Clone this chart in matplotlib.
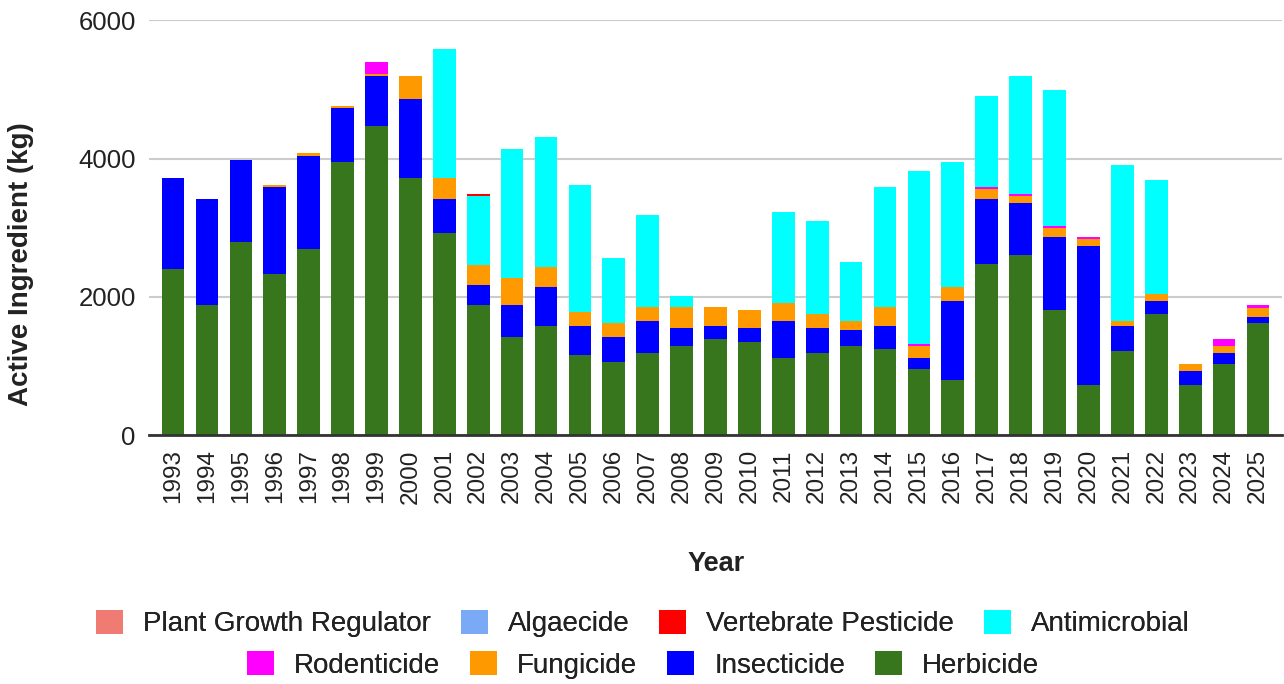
import matplotlib
matplotlib.use("Agg")
import matplotlib.pyplot as plt
import numpy as np
from matplotlib.patches import Patch

years = [str(y) for y in range(1993, 2026)]

herbicide = [2405, 1880, 2800, 2338, 2699, 3948, 4473, 3716, 2926, 1880, 1422, 1586, 1157, 1060, 1191,
             1287, 1388, 1354, 1123, 1191, 1287, 1253, 959, 800, 2473, 2603, 1817, 733, 1224, 1750,
             733, 1027, 1620]
insecticide = [1311, 1542, 1181, 1248, 1345, 790, 723, 1152, 496, 294, 458, 559, 429, 362, 462,
               265, 198, 198, 530, 361, 236, 333, 164, 1147, 949, 757, 1046, 2000, 362, 197,
               197, 164, 96]
fungicide = [0, 0, 0, 34, 34, 29, 34, 328, 294, 294, 400, 294, 197, 198, 198,
             299, 265, 265, 261, 198, 130, 265, 169, 198, 135, 96, 135, 101, 67, 97,
             97, 101, 130]
rodenticide = [0, 0, 0, 0, 0, 0, 164, 0, 0, 0, 0, 0, 0, 0, 0,
               0, 0, 0, 0, 0, 0, 0, 34, 0, 29, 34, 29, 29, 0, 0,
               0, 96, 34]
antimicrobial = [0, 0, 0, 0, 0, 0, 0, 0, 1870, 993, 1865, 1870, 1837, 949, 1340,
                 164, 0, 0, 1311, 1344, 849, 1735, 2491, 1803, 1316, 1706, 1971, 0, 2261, 1643,
                 0, 0, 0]
vertebrate = [0, 0, 0, 0, 0, 0, 0, 0, 0, 29, 0, 0, 0, 0, 0,
              0, 0, 0, 0, 0, 0, 0, 0, 0, 0, 0, 0, 0, 0, 0,
              0, 0, 0]
algaecide = [0] * 33
plant_growth_regulator = [0] * 33

series_names = ["Herbicide", "Insecticide", "Fungicide", "Rodenticide", "Antimicrobial",
                "Vertebrate Pesticide", "Algaecide", "Plant Growth Regulator"]
series_values = [herbicide, insecticide, fungicide, rodenticide, antimicrobial,
                 vertebrate, algaecide, plant_growth_regulator]
colors = {"Herbicide": "#38761d", "Insecticide": "#0000ff", "Fungicide": "#ff9900",
          "Rodenticide": "#ff00ff", "Antimicrobial": "#00ffff", "Vertebrate Pesticide": "#ff0000",
          "Algaecide": "#7aaaf5", "Plant Growth Regulator": "#ef7b72"}

plt.rcParams['font.family'] = ['Liberation Sans', 'DejaVu Sans']

fig = plt.figure(figsize=(12.84, 6.84), dpi=100)
ax = fig.add_axes([149/1284, (684-435.3)/684, (1281.7-149)/1284, (435.3-20.3)/684])

x = np.arange(len(years))
bottom = np.zeros(len(years))
for name, vals in zip(series_names, series_values):
    v = np.array(vals, dtype=float)
    ax.bar(x, v, bottom=bottom, width=0.67, color=colors[name], zorder=3, linewidth=0)
    bottom += v

ax.set_ylim(0, 6000)
ax.set_xlim(-0.71, 32.7)
ax.set_yticks([0, 2000, 4000, 6000])
ax.set_yticklabels(["0", "2000", "4000", "6000"], fontsize=18.5, color="#222222")
ax.set_xticks(x)
ax.set_xticklabels(years, rotation=90, fontsize=17.5, color="#222222")
ax.tick_params(axis='both', length=0)
ax.tick_params(axis='y', pad=9.5)
ax.tick_params(axis='x', pad=10)
ax.grid(axis='y', color="#cccccc", linewidth=1.5, zorder=0)
for s in ["top", "right", "left"]:
    ax.spines[s].set_visible(False)
ax.spines["bottom"].set_color("#333333")
ax.spines["bottom"].set_linewidth(2)
ax.spines["bottom"].set_zorder(4)

fig.text(21/1284, 1 - 264/684, "Active Ingredient (kg)", rotation=90, fontsize=20,
         fontweight='bold', ha='center', va='center', color="#222222")
fig.text(716/1284, 1 - 564/684, "Year", fontsize=19.5, fontweight='bold',
         ha='center', va='center', color="#222222")

row1 = ["Plant Growth Regulator", "Algaecide", "Vertebrate Pesticide", "Antimicrobial"]
row2 = ["Rodenticide", "Fungicide", "Insecticide", "Herbicide"]
for row, yc in [(row1, 623.5), (row2, 665)]:
    handles = [Patch(facecolor=colors[n], edgecolor='none') for n in row]
    leg = fig.legend(handles, row, loc='center', bbox_to_anchor=(643/1284, 1 - yc/684),
                     ncol=4, frameon=False, fontsize=20, handlelength=0.97, handleheight=0.97,
                     handletextpad=0.72, columnspacing=1.08, borderaxespad=0, borderpad=0,
                     labelcolor="#222222")
    fig.add_artist(leg)

fig.savefig("out.png", dpi=100)
